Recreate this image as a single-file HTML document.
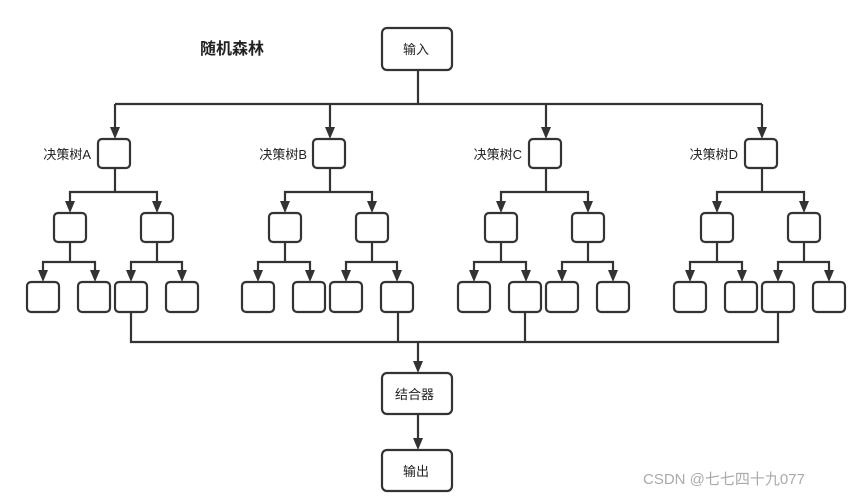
<!DOCTYPE html>
<html><head><meta charset="utf-8"><style>
html,body{margin:0;padding:0;background:#fff;}
svg{display:block;}
text{font-family:"Liberation Sans","Noto Sans CJK SC",sans-serif;}
</style></head><body>
<svg width="864" height="499" viewBox="0 0 864 499" xmlns="http://www.w3.org/2000/svg">
<defs>
<marker id="ar" markerWidth="10" markerHeight="12" refX="5" refY="12" orient="auto-start-reverse" markerUnits="userSpaceOnUse" viewBox="0 0 10 12">
<path d="M0,0 L10,0 L5,12 Z" fill="#333" transform="rotate(-90 5 6) translate(-1 1)"/>
</marker>
<g id="tree" fill="none" stroke="#333" stroke-width="2.2">
<line x1="115" y1="104" x2="115" y2="127"/><path d="M110,127 L120,127 L115,139 Z" fill="#333" stroke="none"/>
<rect x="98" y="139" width="32" height="29" rx="4"/>
<line x1="115" y1="168" x2="115" y2="192"/>
<polyline points="70,202 70,192 157,192 157,202"/>
<path d="M65,201 L75,201 L70,213 Z M152,201 L162,201 L157,213 Z" fill="#333" stroke="none"/>
<rect x="54" y="213" width="32" height="29" rx="4"/>
<rect x="141" y="213" width="32" height="29" rx="4"/>
<line x1="70" y1="242" x2="70" y2="262"/>
<line x1="157" y1="242" x2="157" y2="262"/>
<polyline points="43,271 43,262 95,262 95,271"/>
<polyline points="131,271 131,262 182,262 182,271"/>
<path d="M38,270 L48,270 L43,282 Z M90,270 L100,270 L95,282 Z M126,270 L136,270 L131,282 Z M177,270 L187,270 L182,282 Z" fill="#333" stroke="none"/>
<rect x="27" y="282" width="32" height="30" rx="4"/>
<rect x="78" y="282" width="32" height="30" rx="4"/>
<rect x="115" y="282" width="32" height="30" rx="4"/>
<rect x="166" y="282" width="32" height="30" rx="4"/>
</g>
</defs>
<text x="200" y="54" font-size="16" font-weight="bold" fill="#222">随机森林</text>
<g fill="none" stroke="#333" stroke-width="2.2">
<rect x="382" y="28" width="70" height="42" rx="5"/>
<line x1="418" y1="70" x2="418" y2="104"/>
<line x1="115" y1="104" x2="762" y2="104"/>
<polyline points="131,312 131,342 778,342 778,312"/>
<line x1="398" y1="312" x2="398" y2="342"/>
<line x1="525" y1="312" x2="525" y2="342"/>
<line x1="418" y1="342" x2="418" y2="362"/>
<rect x="382" y="373" width="70" height="41" rx="5"/>
<line x1="418" y1="414" x2="418" y2="438"/>
<rect x="382" y="450" width="70" height="41" rx="5"/>
</g>
<path d="M413,361 L423,361 L418,373 Z M413,438 L423,438 L418,450 Z" fill="#333"/>
<use href="#tree"/>
<use href="#tree" x="215"/>
<use href="#tree" x="431"/>
<use href="#tree" x="647"/>
<g font-size="13" fill="#222">
<text x="403" y="54">输入</text>
<text x="395" y="399">结合器</text>
<text x="403" y="476">输出</text>
<text x="91" y="159" text-anchor="end">决策树A</text>
<text x="307" y="159" text-anchor="end">决策树B</text>
<text x="522" y="159" text-anchor="end">决策树C</text>
<text x="738" y="159" text-anchor="end">决策树D</text>
</g>
<text x="643" y="484" font-size="15" fill="#aaa">CSDN @七七四十九077</text>
</svg>
</body></html>
